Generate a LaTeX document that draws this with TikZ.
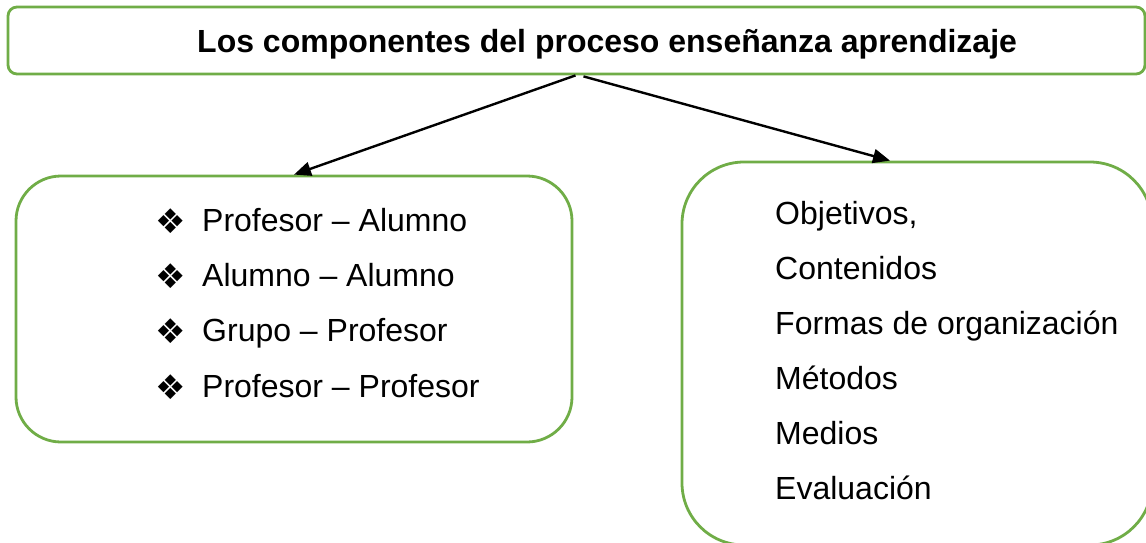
\documentclass[tikz,border=0pt]{standalone}
\usepackage{fontspec}
\setmainfont{Liberation Sans}
\newfontfamily\symfont{DejaVu Sans}
\usetikzlibrary{arrows.meta,calc}
\definecolor{boxgreen}{HTML}{70AD47}
\tikzset{
  gbox/.style={draw=boxgreen, line width=2.8pt, fill=white, inner sep=0pt},
  conn/.style={line width=2.4pt, -{Triangle[length=17pt,width=14pt]}},
  txt/.style={anchor=base west, inner sep=0pt, font=\fontsize{32}{38}\selectfont},
  bul/.style={anchor=base west, inner sep=0pt, font=\symfont\fontsize{34}{40}\selectfont}
}
\begin{document}
\begin{tikzpicture}[x=1pt,y=-1pt]
\useasboundingbox (0,0) rectangle (1146,542);
\clip (0,0) rectangle (1146,542);
% boxes
\node[gbox, rounded corners=9pt, minimum width=1137pt, minimum height=67pt] (top) at (576.5,40.5) {};
\node[gbox, rounded corners=45pt, minimum width=556pt, minimum height=266pt] (left) at (294,309) {};
\node[gbox, rounded corners=62pt, minimum width=470pt, minimum height=383pt] (right) at (917,353.5) {};
% title
\node[txt, font=\bfseries\fontsize{32}{38}\selectfont] (title) at (197,52) {Los componentes del proceso enseñanza aprendizaje};
% connectors
\draw[conn] ($(top.south)+(-1,0)$) -- (left.north);
\draw[conn] ($(top.south)+(7,1)$) -- ($(right.north)+(-27,0)$);
% left list
\node[bul] (b1) at (155,233) {❖};
\node[txt] (l1) at (202,231) {Profesor – Alumno};
\node[bul] (b2) at (155,288) {❖};
\node[txt] (l2) at (202,286) {Alumno – Alumno};
\node[bul] (b3) at (155,343) {❖};
\node[txt] (l3) at (202,341) {Grupo – Profesor};
\node[bul] (b4) at (155,399) {❖};
\node[txt] (l4) at (202,397) {Profesor – Profesor};
% right list
\node[txt] (r1) at (775,224) {Objetivos,};
\node[txt] (r2) at (775,279) {Contenidos};
\node[txt] (r3) at (775,334) {Formas de organización};
\node[txt] (r4) at (775,389) {Métodos};
\node[txt] (r5) at (775,444) {Medios};
\node[txt] (r6) at (775,499) {Evaluación};
\end{tikzpicture}
\end{document}
